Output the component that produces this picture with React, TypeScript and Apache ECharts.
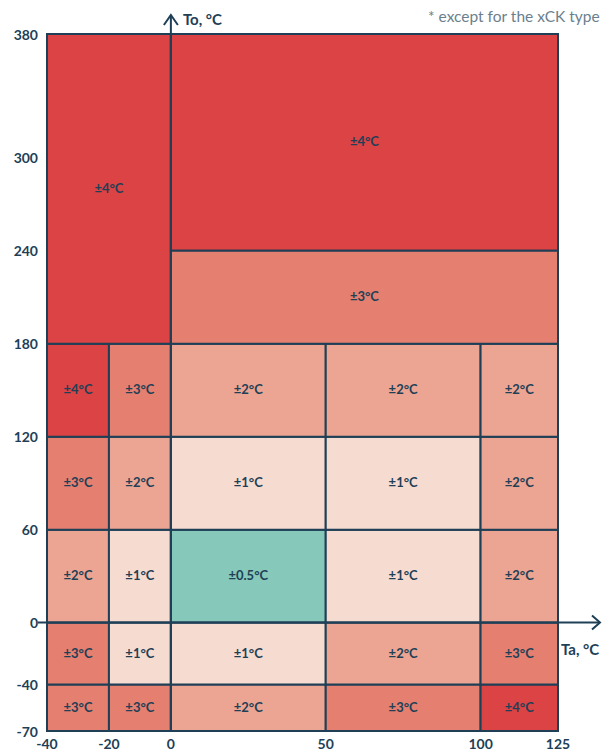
import React, { useEffect, useRef } from "react";
import * as echarts from "echarts";

// Breakpoints / tick labels
const X_TICKS = [-40, -20, 0, 50, 100, 125];
const Y_TICKS = [-70, -40, 0, 60, 120, 180, 240, 300, 380];

// Cells: [Ta from, Ta to, To from, To to, accuracy ±°C]
const cellsBottom: number[][] = [
  [-40, -20, -70, -40, 3],
  [-20, 0, -70, -40, 3],
  [0, 50, -70, -40, 2],
  [50, 100, -70, -40, 3],
  [100, 125, -70, -40, 4],
];
const cellsBelowZero: number[][] = [
  [-40, -20, -40, 0, 3],
  [-20, 0, -40, 0, 1],
  [0, 50, -40, 0, 1],
  [50, 100, -40, 0, 2],
  [100, 125, -40, 0, 3],
];
const cells0to60: number[][] = [
  [-40, -20, 0, 60, 2],
  [-20, 0, 0, 60, 1],
  [0, 50, 0, 60, 0.5],
  [50, 100, 0, 60, 1],
  [100, 125, 0, 60, 2],
];
const cells60to120: number[][] = [
  [-40, -20, 60, 120, 3],
  [-20, 0, 60, 120, 2],
  [0, 50, 60, 120, 1],
  [50, 100, 60, 120, 1],
  [100, 125, 60, 120, 2],
];
const cells120to180: number[][] = [
  [-40, -20, 120, 180, 4],
  [-20, 0, 120, 180, 3],
  [0, 50, 120, 180, 2],
  [50, 100, 120, 180, 2],
  [100, 125, 120, 180, 2],
];
const cellsTop: number[][] = [
  [-40, 0, 180, 380, 4],
  [0, 125, 240, 380, 4],
  [0, 125, 180, 240, 3],
];

const ACC_LEVELS = [0.5, 1, 2, 3, 4];
const ACC_COLORS = ["#86c8ba", "#f6dbd1", "#eca592", "#e57f70", "#dc4344"];

const NOTE = "* except for the xCK type";
const X_TITLE = "Ta, °C";
const Y_TITLE = "To, °C";

const INK = "#1e3f56";
const FONT = "Lato, 'Open Sans', sans-serif";

export default function App() {
  const ref = useRef<HTMLDivElement>(null);
  useEffect(() => {
    if (!ref.current) return;
    const chart = echarts.init(ref.current, null, { renderer: "svg" });
    const cells = [
      ...cellsBottom,
      ...cellsBelowZero,
      ...cells0to60,
      ...cells60to120,
      ...cells120to180,
      ...cellsTop,
    ];
    const colorOf = (v: number) => ACC_COLORS[ACC_LEVELS.indexOf(v)];
    const option: any = {
      animation: false,
      textStyle: { fontFamily: FONT },
      grid: { left: 47, top: 34, width: 511, height: 697 },
      graphic: [
        {
          type: "text",
          right: 10,
          top: 8,
          style: {
            text: NOTE,
            font: `400 15.5px ${FONT}`,
            fill: "#6b7f8d",
          },
        },
      ],
      xAxis: {
        type: "value",
        min: -40,
        max: 125,
        axisLine: { show: false },
        axisTick: { show: false },
        splitLine: { show: false },
        axisLabel: {
          customValues: X_TICKS,
          margin: 5,
          color: INK,
          fontWeight: "bold",
          fontSize: 14,
          fontFamily: FONT,
        },
      },
      yAxis: {
        type: "value",
        min: -70,
        max: 380,
        axisLine: { show: false },
        axisTick: { show: false },
        splitLine: { show: false },
        axisLabel: {
          customValues: Y_TICKS,
          margin: 9,
          color: INK,
          fontWeight: "bold",
          fontSize: 14,
          fontFamily: FONT,
        },
      },
      series: [
        {
          type: "custom",
          silent: true,
          encode: { x: [0, 1], y: [2, 3] },
          data: cells,
          renderItem: (params: any, api: any) => {
            const x0 = api.value(0);
            const x1 = api.value(1);
            const y0 = api.value(2);
            const y1 = api.value(3);
            const acc = api.value(4);
            const p0 = api.coord([x0, y1]);
            const p1 = api.coord([x1, y0]);
            return {
              type: "group",
              children: [
                {
                  type: "rect",
                  shape: { x: p0[0], y: p0[1], width: p1[0] - p0[0], height: p1[1] - p0[1] },
                  style: { fill: colorOf(acc), stroke: INK, lineWidth: 2 },
                },
                {
                  type: "text",
                  x: (p0[0] + p1[0]) / 2,
                  y: (p0[1] + p1[1]) / 2 - 1,
                  style: {
                    text: `±${acc}°C`,
                    align: "center",
                    verticalAlign: "middle",
                    font: `bold 13px ${FONT}`,
                    fill: INK,
                  },
                },
              ],
            };
          },
        },
        {
          type: "custom",
          silent: true,
          z: 5,
          data: [[0, 0]],
          renderItem: (params: any, api: any) => {
            const o = api.coord([0, 0]);
            const left = api.coord([-40, 0]);
            const right = api.coord([125, 0]);
            const bottom = api.coord([0, -70]);
            const top = api.coord([0, 380]);
            const xEnd = right[0] + 42;
            const yEnd = top[1] - 19;
            const st = { stroke: INK, lineWidth: 2, fill: "none" };
            return {
              type: "group",
              children: [
                { type: "line", shape: { x1: left[0] - 9, y1: o[1], x2: xEnd, y2: o[1] }, style: st },
                { type: "line", shape: { x1: o[0], y1: bottom[1] + 1, x2: o[0], y2: yEnd }, style: st },
                {
                  type: "polyline",
                  shape: { points: [[xEnd - 8, o[1] - 7], [xEnd, o[1]], [xEnd - 8, o[1] + 7]] },
                  style: st,
                },
                {
                  type: "polyline",
                  shape: { points: [[o[0] - 7, yEnd + 10], [o[0], yEnd], [o[0] + 7, yEnd + 10]] },
                  style: st,
                },
                {
                  type: "text",
                  x: o[0] + 12,
                  y: yEnd + 4,
                  style: { text: Y_TITLE, align: "left", verticalAlign: "middle", font: `bold 15px ${FONT}`, fill: INK },
                },
                {
                  type: "text",
                  x: right[0] + 3,
                  y: o[1] + 26,
                  style: { text: X_TITLE, align: "left", verticalAlign: "middle", font: `bold 15px ${FONT}`, fill: INK },
                },
              ],
            };
          },
        },
      ],
    };
    chart.setOption(option);
    return () => chart.dispose();
  }, []);
  return (
    <div
      ref={ref}
      style={{ position: "fixed", left: 0, top: 0, width: 610, height: 753, background: "#fff" }}
    />
  );
}
